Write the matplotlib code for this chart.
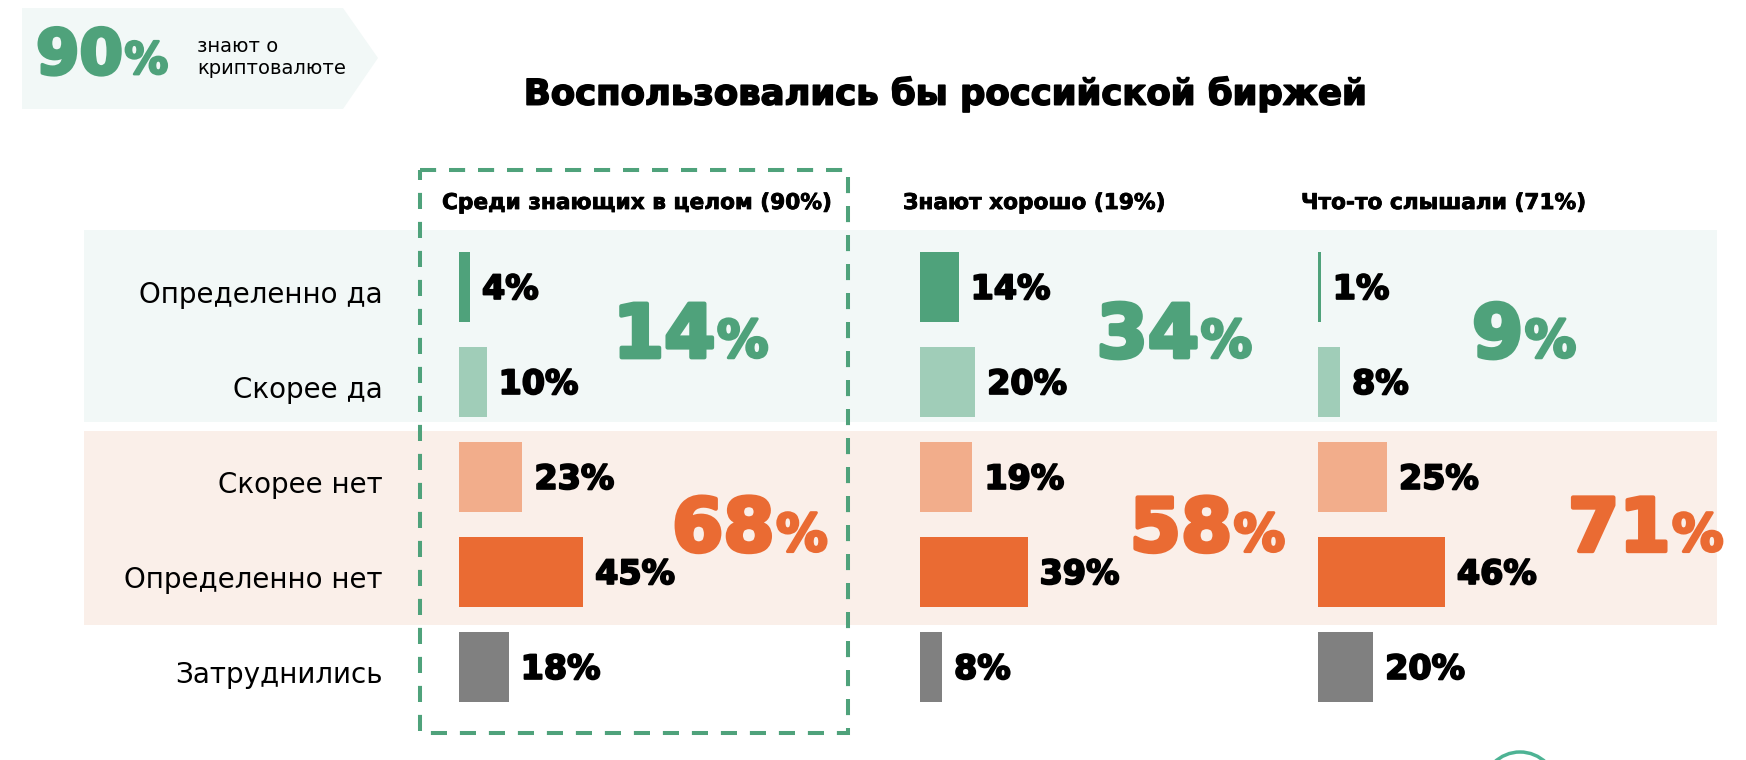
import numpy as np
import matplotlib.pyplot as plt
import matplotlib.patheffects as pe
from matplotlib.patches import Rectangle, Polygon, Circle

# ---- data ----
categories = ['Определенно да', 'Скорее да', 'Скорее нет', 'Определенно нет', 'Затруднились']
groups = ['Среди знающих в целом (90%)', 'Знают хорошо (19%)', 'Что-то слышали (71%)']
all_aware = [4, 10, 23, 45, 18]
know_well = [14, 20, 19, 39, 8]
heard_of = [1, 8, 25, 46, 20]
yes_total = [14, 34, 9]
no_total = [68, 58, 71]
aware_share = 90
title = 'Воспользовались бы российской биржей'

# ---- style / layout ----
W, H = 1746, 760
GREEN = '#4fa27b'
ORANGE = '#ea6b33'
bar_colors = ['#4fa27b', '#a0cdb8', '#f2ad8b', '#ea6b33', '#808080']
col_x = [459, 920, 1318]        # left edge of the bars, px
PX_PER = 2.76                   # px per percent
ROW_TOP, ROW_H = 239.5, 95      # first row top edge, row pitch (px)
yes_x = [55.8, 64, 55.8]        # where the big totals sit (percent units)
no_x = [77.2, 76, 90.6]

plt.rcParams['font.family'] = ['DejaVu Sans']

fig = plt.figure(figsize=(W / 100, H / 100), dpi=100)
bg = fig.add_axes([0, 0, 1, 1])
bg.set_xlim(0, W)
bg.set_ylim(H, 0)
bg.axis('off')


def heavy(color, lw):
    # fake a "black" weight by stroking the glyphs
    return [pe.withStroke(linewidth=lw, foreground=color)]


def px_axes(x0, y0, x1, y1):
    return fig.add_axes([x0 / W, 1 - y1 / H, (x1 - x0) / W, (y1 - y0) / H])


def big_pct(ax, x, y, num, size, color, stroke):
    t = ax.text(x, y, str(num), fontsize=size, weight='bold', color=color, va='baseline',
                ha='left', path_effects=heavy(color, stroke))
    small = size * 0.7
    ax.annotate('%', xy=(1, 0), xycoords=t, xytext=(1, (size - small) * 0.236),
                textcoords='offset points', fontsize=small, weight='bold',
                color=color, va='bottom', ha='left', path_effects=heavy(color, stroke * 0.7))


# background bands
bg.add_patch(Rectangle((84, 230), 1633, 192, color='#f2f8f7', lw=0))
bg.add_patch(Rectangle((84, 431), 1633, 194, color='#faefe9', lw=0))

# badge top-left
bg.add_patch(Polygon([(22, 8), (343, 8), (378, 58), (343, 109), (22, 109)], closed=True,
                     color='#f2f8f7', lw=0))
big_pct(bg, 36, 74, aware_share, 45, GREEN, 2.5)
bg.text(197, 57, 'знают о\nкриптовалюте', fontsize=14, va='center', ha='left', linespacing=1.2)

# title
bg.text(945, 94, title, fontsize=25.5, weight='bold', ha='center', va='center',
        path_effects=heavy('black', 1.2))

# dashed frame around first group
bg.add_patch(Rectangle((420, 170), 428, 563, fill=False, ec=GREEN, lw=2.9, linestyle=(0, (4, 3.2))))

# logo fragment at bottom
bg.add_patch(Circle((1520, 789), 37, fill=False, ec='#4db394', lw=2.5))

series = [all_aware, know_well, heard_of]
for j, vals in enumerate(series):
    x0 = col_x[j]
    ax = px_axes(x0, ROW_TOP, x0 + 400, ROW_TOP + 5 * ROW_H)
    ax.set_facecolor('none')
    ax.set_xlim(0, 400 / PX_PER)
    ax.set_ylim(4.5, -0.5)
    ax.axis('off')
    ax.barh(range(len(vals)), vals, height=70 / ROW_H, color=bar_colors)
    for i, v in enumerate(vals):
        ax.text(v + 12 / PX_PER, i + 0.125, f'{v}%', fontsize=24, weight='bold', va='baseline',
                path_effects=heavy('black', 1.4))
    big_pct(ax, yes_x[j], 0.74, yes_total[j], 53, GREEN, 3)
    big_pct(ax, no_x[j], 2.78, no_total[j], 53, ORANGE, 3)
    bg.text(x0 - 17, 203, groups[j], fontsize=15.6, weight='bold', va='center', ha='left',
            path_effects=heavy('black', 0.6))
    if j == 0:
        for i, c in enumerate(categories):
            ax.text(-76 / PX_PER, i + 0.168, c, fontsize=20, ha='right', va='baseline')

fig.savefig('out.png', dpi=100)
